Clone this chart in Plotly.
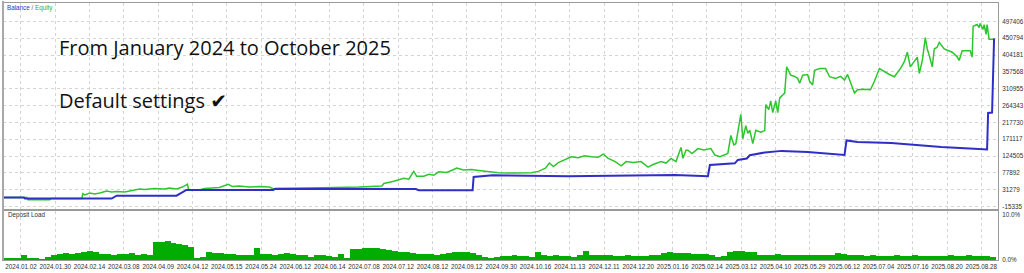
import plotly.graph_objects as go

# ---------------- data ----------------
x_tick_labels = ["2024.01.02", "2024.01.30", "2024.02.14", "2024.03.08", "2024.04.09", "2024.04.12",
                 "2024.05.15", "2024.05.24", "2024.06.12", "2024.06.14", "2024.07.08", "2024.07.12",
                 "2024.08.12", "2024.09.12", "2024.09.30", "2024.10.16", "2024.11.13", "2024.12.11",
                 "2024.12.20", "2025.01.16", "2025.02.14", "2025.03.12", "2025.04.10", "2025.05.29",
                 "2025.06.12", "2025.07.04", "2025.07.16", "2025.08.20", "2025.08.28"]

y_tick_values = [-15335, 31279, 77892, 124505, 171117, 217730, 264343, 310955, 357568, 404181, 450794, 497406]

balance_idx = [0, 21, 22, 109, 114, 174, 184, 271, 273, 414, 417, 471, 472, 491, 567, 617, 647, 674, 707,
               709, 734, 737, 746, 749, 764, 781, 807, 844, 846, 857, 891, 907, 941, 974, 987, 988, 992, 994]
balance_val = [10000, 10000, 7000, 7000, 15000, 15000, 31000, 31000, 34000, 33500, 30000, 30000, 67000, 71500,
               68700, 70500, 73000, 72500, 68700, 100000, 104500, 114000, 118000, 127000, 134500, 139000,
               136000, 127500, 168000, 163500, 161000, 157000, 150000, 145000, 143000, 244000, 245000, 450000]

equity_idx = [0, 24, 25, 47, 48, 79, 80, 82, 87, 92, 97, 104, 109, 114, 122, 130, 137, 142, 152, 162, 167, 174,
              180, 185, 186, 189, 197, 202, 209, 217, 226, 230, 237, 247, 257, 267, 271, 297, 317, 337, 357, 380,
              382, 392, 402, 407, 412, 415, 422, 427, 432, 437, 445, 452, 455, 462, 470, 477, 487, 497, 512, 530,
              537, 544, 548, 552, 557, 564, 570, 577, 583, 590, 597, 602, 607, 614, 620, 625, 632, 640, 647, 652,
              660, 665, 670, 675, 677, 680, 682, 685, 687, 691, 697, 703, 710, 714, 719, 724, 727, 730, 733, 735,
              740, 742, 745, 747, 749, 752, 755, 760, 764, 765, 768, 770, 772, 775, 777, 779, 784, 786, 790, 794,
              797, 799, 802, 807, 809, 812, 814, 819, 825, 829, 835, 840, 844, 847, 850, 854, 857, 863, 870, 874,
              879, 884, 889, 894, 900, 904, 907, 910, 914, 917, 919, 922, 925, 927, 929, 932, 934, 937, 939, 942,
              944, 952, 957, 959, 962, 970, 972, 973, 977, 979, 980, 983, 984, 986, 987, 989, 994]
equity_val = [10000, 10000, 3600, 3600, 7000, 7000, 20700, 17200, 22600, 19900, 22600, 28000, 25300, 26700, 25300,
              29400, 33400, 32100, 34800, 33400, 36200, 33400, 38900, 47000, 33000, 31000, 31000, 34800, 36200,
              37500, 46200, 40200, 41600, 38900, 40200, 38900, 34500, 35300, 36200, 37000, 38900, 41600, 48900,
              55100, 63300, 60500, 82200, 68700, 68700, 74100, 71400, 80900, 79500, 87600, 91700, 86300, 87600,
              84900, 82200, 78200, 77600, 78200, 82200, 91200, 105300, 95800, 106600, 115600, 122900, 120200,
              125600, 122900, 121500, 130200, 118300, 109300, 97700, 109300, 106600, 109300, 93900, 101200,
              109300, 105300, 118300, 109300, 122900, 148600, 118300, 141000, 141000, 131800, 145400, 141800,
              145400, 127500, 122900, 128300, 131800, 181700, 155400, 158900, 240200, 172500, 208800, 187900,
              196000, 158900, 196000, 190600, 195200, 267300, 253000, 277300, 244800, 277300, 244800, 285500,
              299000, 371400, 348600, 345100, 339700, 326100, 348600, 350500, 331500, 321500, 362200, 366800,
              366800, 344300, 339700, 345100, 335100, 350500, 330700, 299000, 308000, 309900, 308000, 331500,
              366800, 357800, 350500, 344300, 366800, 385700, 412000, 371400, 388500, 398500, 353200, 388500,
              452700, 421000, 402800, 371400, 421000, 426400, 439100, 426400, 421000, 412000, 399300, 389300,
              416400, 416400, 398500, 484100, 488700, 480600, 491400, 475200, 488700, 461600, 488700, 448000,
              448000]

deposit_load = [0.5, 0.5, 0.6, 1.2, 0.6, 0.5, 0.4, 0.8, 1.3, 1.5, 1.6, 1.5, 1.7, 1.8, 2.0, 1.9, 1.4, 1.5, 1.3,
                1.5, 1.4, 1.6, 1.3, 1.5, 1.2, 4.0, 4.1, 4.3, 3.9, 3.7, 3.5, 3.0, 0.6, 0.8, 1.8, 1.6, 1.7, 1.5,
                1.4, 1.2, 1.3, 1.1, 2.8, 1.4, 1.5, 1.3, 1.4, 1.6, 1.5, 1.2, 1.3, 0.7, 1.2, 1.1, 0.9, 0.8, 1.5,
                0.6, 2.6, 2.6, 2.7, 2.8, 2.8, 2.6, 2.3, 2.0, 1.9, 1.8, 1.6, 1.5, 1.4, 1.5, 1.3, 1.4, 1.7, 1.8,
                1.8, 1.9, 1.6, 1.2, 0.7, 0.6, 0.8, 1.0, 0.9, 1.1, 0.9, 1.0, 0.8, 1.8, 1.2, 1.0, 1.1, 0.9, 1.0,
                0.8, 1.1, 2.0, 1.3, 1.2, 1.1, 1.3, 1.0, 0.9, 1.1, 1.0, 0.9, 1.0, 1.1, 1.2, 1.7, 1.8, 1.7, 1.6,
                1.7, 1.5, 1.4, 1.5, 1.3, 0.8, 0.9, 1.9, 2.1, 2.0, 1.9, 1.8, 1.2, 1.3, 1.2, 1.4, 1.3, 1.2, 1.3,
                1.2, 1.1, 1.3, 1.2, 1.1, 1.3, 1.6, 1.5, 1.2, 1.1, 1.2, 1.0, 1.1, 1.0, 0.9, 1.0, 1.1, 0.9, 1.0,
                1.1, 0.9, 1.0, 1.0, 0.9, 1.0, 1.1, 1.0, 0.9, 1.1, 1.0, 1.0, 0.9, 0.8]
deposit_idx = list(range(3, 3 + 6 * len(deposit_load), 6))

# ---------------- figure ----------------
W, H = 1024, 273
def px(x):
    return x / W
def py(y):
    return 1 - y / H

X_MAX = 998
tick_step = 34.4
tick_pos = [18 + tick_step * i for i in range(len(x_tick_labels))]

BLUE = "#2f2fc8"
GREEN = "#2ec62e"
BAR_GREEN = "#00ad00"
GRID = "#d4d4d4"
BORDER = "#9a9a9a"
TXT = "#303030"
tick_font = dict(family="Liberation Sans, Arial", size=6.3, color=TXT)

fig = go.Figure()
fig.add_trace(go.Scatter(x=equity_idx, y=equity_val, mode="lines",
                         line=dict(color=GREEN, width=1.5), xaxis="x", yaxis="y", name="Equity"))
fig.add_trace(go.Scatter(x=balance_idx, y=balance_val, mode="lines",
                         line=dict(color=BLUE, width=2), xaxis="x", yaxis="y", name="Balance"))
fig.add_trace(go.Bar(x=deposit_idx, y=deposit_load, width=6, marker=dict(color=BAR_GREEN, line=dict(width=0)),
                     xaxis="x2", yaxis="y2", name="Deposit Load"))

main_top, main_bot = 3, 211
dep_top, dep_bot = 213, 263
left, right = 3, 1001

fig.update_layout(
    width=W, height=H, margin=dict(l=0, r=0, t=0, b=0),
    paper_bgcolor="white", plot_bgcolor="white", showlegend=False, bargap=0,
    xaxis=dict(domain=[px(left), px(right)], range=[0, X_MAX], anchor="y",
               tickvals=tick_pos, showticklabels=False, ticks="",
               showgrid=True, gridcolor=GRID, griddash="dot", gridwidth=1,
               zeroline=False, showline=True, linecolor=BORDER, linewidth=1, mirror=True),
    yaxis=dict(domain=[py(main_bot), py(main_top)], range=[-21000, 548400], side="right", anchor="x",
               tickvals=y_tick_values, ticktext=[str(v) for v in y_tick_values],
               tickfont=tick_font, ticks="", ticklabelstandoff=2,
               showgrid=True, gridcolor=GRID, griddash="dot", gridwidth=1,
               zeroline=False, showline=True, linecolor=BORDER, linewidth=1, mirror=True),
    xaxis2=dict(domain=[px(left), px(right)], range=[0, X_MAX], anchor="y2",
                tickvals=tick_pos, ticktext=x_tick_labels, tickfont=tick_font, ticks="",
                ticklabelstandoff=0, tickangle=0,
                showgrid=True, gridcolor=GRID, griddash="dot", gridwidth=1,
                zeroline=False, showline=True, linecolor=BORDER, linewidth=1, mirror=True),
    yaxis2=dict(domain=[py(dep_bot), py(dep_top)], range=[0, 10.9], side="right", anchor="x2",
                tickvals=[0, 10], ticktext=["0.0%", "10.0%"], tickfont=tick_font, ticks="",
                ticklabelstandoff=2, showgrid=False,
                zeroline=False, showline=True, linecolor=BORDER, linewidth=1, mirror=True),
)

# thicker left border like the terminal window edge
fig.add_shape(type="line", xref="paper", yref="paper", x0=px(left), x1=px(left), y0=py(dep_bot), y1=py(1),
              line=dict(color="#a8a8a8", width=2))

fig.add_annotation(xref="paper", yref="paper", x=px(5), y=py(8), xanchor="left", yanchor="middle",
                   showarrow=False,
                   text="<span style='color:#3030c8'>Balance</span> <span style='color:#606060'>/</span> "
                        "<span style='color:#30b030'>Equity</span>",
                   font=dict(family="Liberation Sans, Arial", size=6.3))
fig.add_annotation(xref="paper", yref="paper", x=px(6), y=py(217), xanchor="left", yanchor="middle",
                   showarrow=False, text="Deposit Load",
                   font=dict(family="Liberation Sans, Arial", size=6.3, color=TXT))
fig.add_annotation(xref="paper", yref="paper", x=px(57), y=py(48), xanchor="left", yanchor="middle",
                   showarrow=False, text="From January 2024 to October 2025",
                   font=dict(family="Open Sans", size=20, color="#111111"))
fig.add_annotation(xref="paper", yref="paper", x=px(57), y=py(102), xanchor="left", yanchor="middle",
                   showarrow=False,
                   text="Default settings <span style='font-family:DejaVu Sans; font-weight:bold'>\u2714</span>",
                   font=dict(family="Open Sans", size=20, color="#111111"))

fig.write_html("out.html")
